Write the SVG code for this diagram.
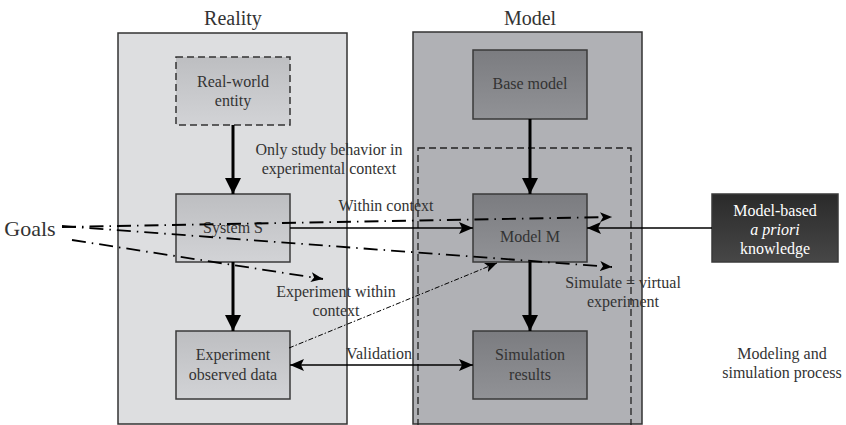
<svg xmlns="http://www.w3.org/2000/svg" width="846" height="425" viewBox="0 0 846 425">
  <style>
    text { font-family: "Liberation Serif", "DejaVu Serif", serif; fill: #333; text-anchor: middle; }
    .title { font-size: 20px; }
    .lbl { font-size: 16px; }
    .box { stroke: #3a3a3a; stroke-width: 1.5; }
    .thick { stroke: #000; stroke-width: 3; fill: none; }
    .thin { stroke: #000; stroke-width: 1.6; fill: none; }
    .dashdot { stroke: #000; stroke-width: 1.8; fill: none; stroke-dasharray: 14 6 1.5 6; }
    .fine { stroke: #000; stroke-width: 1; fill: none; stroke-dasharray: 5 2 1.5 2; }
  </style>
  <defs>
    <linearGradient id="gLight" x1="0" y1="0" x2="0" y2="1">
      <stop offset="0" stop-color="#bdbec1"/>
      <stop offset="1" stop-color="#d2d3d6"/>
    </linearGradient>
    <linearGradient id="gMid" x1="0" y1="0" x2="0" y2="1">
      <stop offset="0" stop-color="#7b7c80"/>
      <stop offset="1" stop-color="#919296"/>
    </linearGradient>
    <linearGradient id="gDark" x1="0" y1="0" x2="0" y2="1">
      <stop offset="0" stop-color="#2a2a2a"/>
      <stop offset="1" stop-color="#474747"/>
    </linearGradient>
    <marker id="bigHead" viewBox="0 0 16 16" refX="16" refY="8" markerWidth="16" markerHeight="16" markerUnits="userSpaceOnUse" orient="auto-start-reverse">
      <path d="M0,0 L16,8 L0,16 z" fill="#000"/>
    </marker>
    <marker id="head" viewBox="0 0 14 12" refX="14" refY="6" markerWidth="14" markerHeight="12" markerUnits="userSpaceOnUse" orient="auto-start-reverse">
      <path d="M0,0 L14,6 L0,12 L3,6 z" fill="#000"/>
    </marker>
    <marker id="smallHead" viewBox="0 0 12 10" refX="12" refY="5" markerWidth="12" markerHeight="10" markerUnits="userSpaceOnUse" orient="auto">
      <path d="M0,0 L12,5 L0,10 L3,5 z" fill="#000"/>
    </marker>
  </defs>

  <!-- Swimlane panels -->
  <g id="reality-panel">
    <rect x="118" y="33" width="229" height="391" fill="#dddee0" stroke="#333" stroke-width="1.5"/>
    <text class="title" x="233" y="25">Reality</text>
  </g>
  <g id="model-panel">
    <rect x="413" y="32" width="229" height="392" fill="#b0b1b5" stroke="#333" stroke-width="1.5"/>
    <rect x="418" y="148" width="213" height="278" fill="none" stroke="#222" stroke-width="1.3" stroke-dasharray="7 4"/>
    <text class="title" x="530" y="25">Model</text>
  </g>

  <!-- Nodes -->
  <g id="real-world-entity">
    <rect x="176" y="57" width="114" height="68" fill="url(#gLight)" stroke="#333" stroke-width="1.5" stroke-dasharray="7 4"/>
    <text class="lbl" x="233" y="87">Real-world</text>
    <text class="lbl" x="233" y="106">entity</text>
  </g>
  <g id="system-s">
    <rect class="box" x="176" y="194" width="114" height="68" fill="url(#gLight)"/>
    <text class="lbl" x="233" y="233">System S</text>
  </g>
  <g id="experiment-data">
    <rect class="box" x="176" y="331" width="114" height="68" fill="url(#gLight)"/>
    <text class="lbl" x="233" y="360">Experiment</text>
    <text class="lbl" x="233" y="380">observed data</text>
  </g>
  <g id="base-model">
    <rect class="box" x="473" y="50" width="114" height="69" fill="url(#gMid)"/>
    <text class="lbl" x="530" y="89">Base model</text>
  </g>
  <g id="model-m">
    <rect class="box" x="473" y="194" width="114" height="68" fill="url(#gMid)"/>
    <text class="lbl" x="530" y="242">Model M</text>
  </g>
  <g id="simulation-results">
    <rect class="box" x="473" y="331" width="114" height="68" fill="url(#gMid)"/>
    <text class="lbl" x="530" y="360">Simulation</text>
    <text class="lbl" x="530" y="380">results</text>
  </g>
  <g id="apriori-knowledge">
    <rect class="box" x="712" y="194" width="126" height="68" fill="url(#gDark)"/>
    <text class="lbl" x="775" y="216" style="fill:#fff">Model-based</text>
    <text class="lbl" x="775" y="235" style="fill:#fff;font-style:italic">a priori</text>
    <text class="lbl" x="775" y="254" style="fill:#fff">knowledge</text>
  </g>
  <g id="goals">
    <text x="30" y="236" style="font-size:22px">Goals</text>
  </g>
  <g id="process-note">
    <text class="lbl" x="782" y="359">Modeling and</text>
    <text class="lbl" x="782" y="378">simulation process</text>
  </g>

  <!-- Connectors -->
  <g id="connectors">
    <line class="thick" x1="233" y1="125" x2="233" y2="194" marker-end="url(#bigHead)"/>
    <line class="thick" x1="233" y1="262" x2="233" y2="331" marker-end="url(#bigHead)"/>
    <line class="thick" x1="530" y1="119" x2="530" y2="194" marker-end="url(#bigHead)"/>
    <line class="thick" x1="530" y1="262" x2="530" y2="331" marker-end="url(#bigHead)"/>
    <line class="thin" x1="290" y1="228" x2="473" y2="228" marker-end="url(#head)"/>
    <line class="thin" x1="712" y1="228" x2="587" y2="228" marker-end="url(#head)"/>
    <line class="thin" x1="290" y1="365" x2="473" y2="365" marker-start="url(#head)" marker-end="url(#head)"/>
    <line class="dashdot" x1="62" y1="227" x2="612" y2="217" marker-end="url(#smallHead)"/>
    <line class="dashdot" x1="62" y1="226" x2="612" y2="267" marker-end="url(#smallHead)"/>
    <line class="dashdot" x1="72" y1="240" x2="323" y2="279" marker-end="url(#smallHead)"/>
    <line class="fine" x1="289" y1="348" x2="497" y2="263" marker-end="url(#smallHead)"/>
  </g>

  <!-- Connector labels -->
  <g id="connector-labels">
    <text class="lbl" x="329" y="155">Only study behavior in</text>
    <text class="lbl" x="329" y="174">experimental context</text>
    <text class="lbl" x="386" y="211">Within context</text>
    <text class="lbl" x="336" y="297">Experiment within</text>
    <text class="lbl" x="336" y="316">context</text>
    <text class="lbl" x="623" y="288">Simulate = virtual</text>
    <text class="lbl" x="623" y="307">experiment</text>
    <text class="lbl" x="379" y="359">Validation</text>
  </g>
</svg>
